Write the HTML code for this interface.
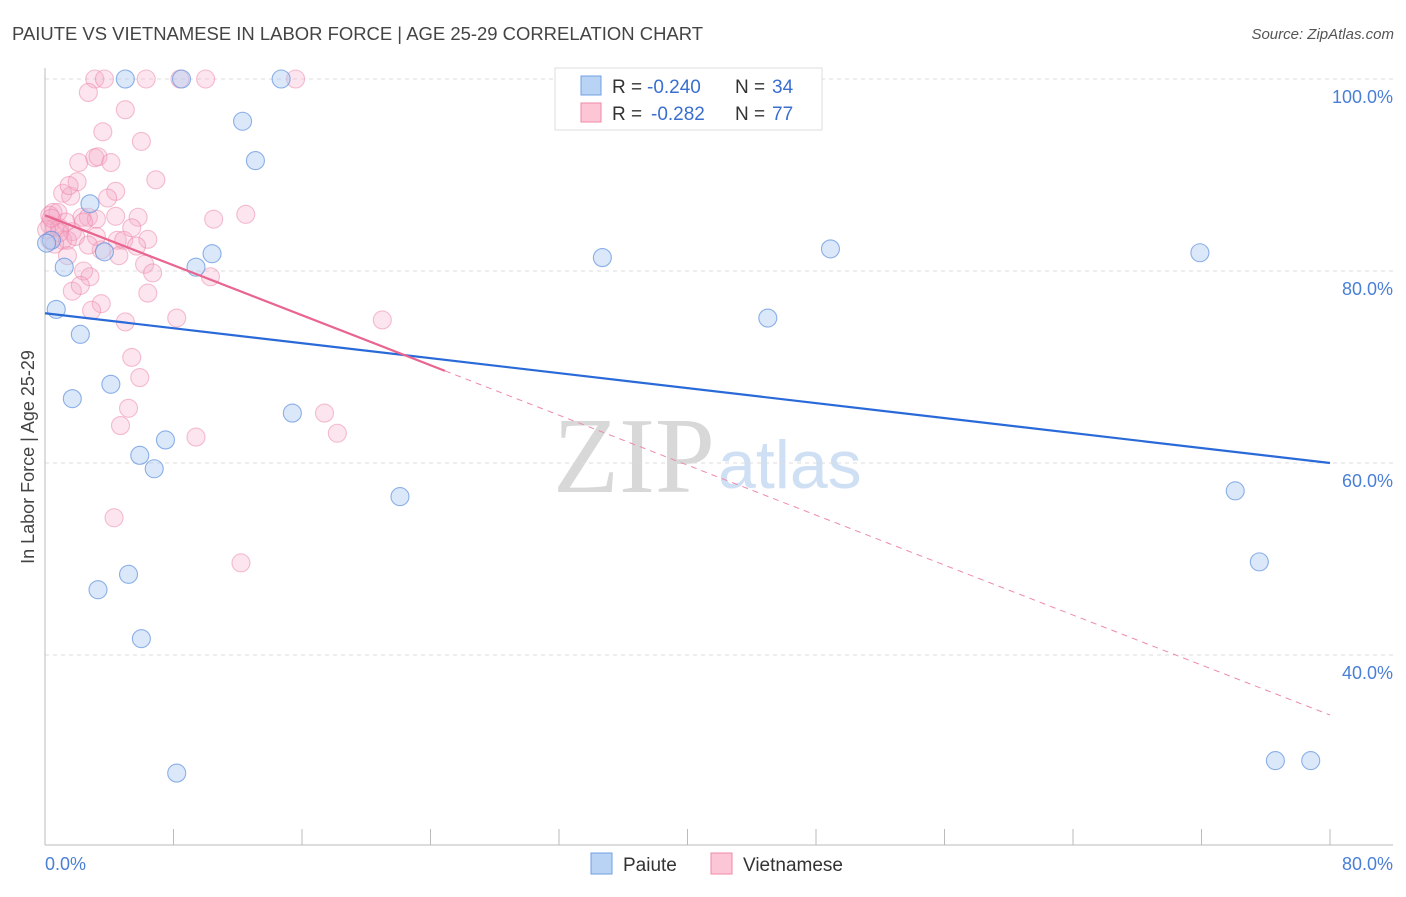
<!DOCTYPE html>
<html><head><meta charset="utf-8"><style>
body{margin:0;background:#fff;font-family:"Liberation Sans",sans-serif}
</style></head><body>
<svg id="chart" width="1406" height="892" xmlns="http://www.w3.org/2000/svg">
<text x="12" y="40" font-size="18" fill="#444" textLength="691" lengthAdjust="spacingAndGlyphs">PAIUTE VS VIETNAMESE IN LABOR FORCE | AGE 25-29 CORRELATION CHART</text>
<text x="1394" y="39" font-size="15" fill="#555" font-style="italic" text-anchor="end">Source: ZipAtlas.com</text>
<text x="553" y="492" font-size="108" fill="#d8d8d8" font-family="Liberation Serif,serif">ZIP</text>
<text x="718" y="488" font-size="68" fill="#cfe0f4">atlas</text>
<g id="grid"></g><g id="axes"></g><g id="pts"></g><g id="lines"></g>
<text transform="translate(34,457) rotate(-90)" font-size="18" fill="#444" text-anchor="middle">In Labor Force | Age 25-29</text>
<text x="45" y="870" font-size="18" fill="#4a7fd6">0.0%</text>
<text x="1393" y="870" font-size="18" fill="#4a7fd6" text-anchor="end">80.0%</text>
<g>
<rect x="555" y="68" width="267" height="62" fill="#fff" stroke="#ddd"/>
<rect x="581" y="76" width="20" height="19" fill="#b9d3f5" stroke="#6f9fe0"/>
<rect x="581" y="103" width="20" height="19" fill="#fcc6d6" stroke="#f08aa8"/>
<text x="612" y="93" font-size="19" fill="#333">R =</text>
<text x="647" y="93" font-size="19" fill="#3a6fd0">-0.240</text>
<text x="735" y="93" font-size="19" fill="#333">N =</text>
<text x="772" y="93" font-size="19" fill="#3a6fd0">34</text>
<text x="612" y="120" font-size="19" fill="#333">R =</text>
<text x="651" y="120" font-size="19" fill="#3a6fd0">-0.282</text>
<text x="735" y="120" font-size="19" fill="#333">N =</text>
<text x="772" y="120" font-size="19" fill="#3a6fd0">77</text>
</g>
<g>
<rect x="591" y="853" width="21" height="21" fill="#b9d3f5" stroke="#6f9fe0"/>
<text x="623" y="871" font-size="19" fill="#333">Paiute</text>
<rect x="711" y="853" width="21" height="21" fill="#fcc6d6" stroke="#f08aa8"/>
<text x="743" y="871" font-size="19" fill="#333">Vietnamese</text>
</g>
</svg>
<script>
const yTicks=[100,80,60,40];
const yTickLabels=["100.0%","80.0%","60.0%","40.0%"];
const xTicks=[0,8,16,24,32,40,48,56,64,72,80];
const pinkX=[3.1,3.7,6.3,8.4,10.0,15.6,2.7,5.0,3.6,6.0,2.1,3.1,3.3,4.1,6.9,1.1,1.6,2.0,1.5,4.4,3.9,10.5,12.5,0.5,0.8,2.3,2.7,3.2,4.4,5.8,0.3,0.6,0.9,1.3,1.7,1.1,1.4,1.9,0.3,0.6,3.2,4.5,4.9,6.4,5.7,3.5,4.6,6.2,1.4,2.4,2.8,6.7,10.3,1.7,2.2,6.4,3.5,2.9,5.0,8.2,21.0,5.4,5.9,5.2,4.7,17.4,18.2,9.4,4.3,12.2,0.3,0.9,2.7,5.4,2.4,0.1,0.4];
const pinkY=[100,100,100,100,100,100,98.6,96.8,94.5,93.5,91.3,91.8,91.9,91.3,89.5,88.1,87.8,89.3,88.9,88.3,87.6,85.4,85.9,86.1,86.1,85.6,85.6,85.4,85.7,85.6,84.8,84.5,84.5,85.1,84.1,83.2,83.2,83.6,83.2,82.8,83.6,83.2,83.2,83.3,82.6,82.2,81.6,80.7,81.6,80.0,79.4,79.8,79.4,77.9,78.5,77.7,76.6,75.9,74.7,75.1,74.9,71.0,68.9,65.7,63.9,65.2,63.1,62.7,54.3,49.6,85.8,84.0,82.7,84.5,85.1,84.3,85.5];
const blueX=[5.0,8.5,14.7,46.0,12.3,13.1,2.8,10.4,3.7,9.4,1.2,34.7,48.9,71.9,0.7,2.2,45.0,4.1,1.7,15.4,7.5,5.9,6.8,22.1,74.1,75.6,5.2,3.3,6.0,8.2,76.6,78.8,0.4,0.1];
const blueY=[100,100,100,100,95.6,91.5,87.0,81.8,82.0,80.4,80.4,81.4,82.3,81.9,76.0,73.4,75.1,68.2,66.7,65.2,62.4,60.8,59.4,56.5,57.1,49.7,48.4,46.8,41.7,27.7,29.0,29.0,83.2,82.9];
const blueTrend=[75.6,60.0];
const pinkTrend=[85.8,33.75];
const pinkSolidEnd=24.9;
const NS="http://www.w3.org/2000/svg";
const X=v=>45+v*(1285/80);
const Y=v=>79+(100-v)*9.6;
function mk(tag,attrs,parent){const e=document.createElementNS(NS,tag);for(const k in attrs)e.setAttribute(k,attrs[k]);document.getElementById(parent).appendChild(e);return e;}
yTicks.forEach((t,i)=>{
 let g=mk('line',{x1:45,x2:1393,y1:Y(t),y2:Y(t),stroke:'#ddd','stroke-dasharray':'4,4'},'grid');
 
 
 let tx=mk('text',{x:1393,y:Y(t)+24,'font-size':18,fill:'#4a7fd6','text-anchor':'end'},'grid');
 tx.textContent=yTickLabels[i];
 
 
});
let a1=mk('line',{x1:45,x2:45,y1:68,y2:845,stroke:'#bbb'},'axes');


let a2=mk('line',{x1:45,x2:1393,y1:845,y2:845,stroke:'#bbb'},'axes');


xTicks.forEach(t=>{
 let l=mk('line',{x1:X(t),x2:X(t),y1:829,y2:845,stroke:'#bbb'},'axes');
 
 
});
pinkX.forEach((v,i)=>{
 let c=mk('circle',{cx:X(v),cy:Y(pinkY[i]),r:9,fill:'rgba(246,170,198,0.3)',stroke:'rgba(236,130,165,0.5)','stroke-width':1.1},'pts');
 
 
});
blueX.forEach((v,i)=>{
 let c=mk('circle',{cx:X(v),cy:Y(blueY[i]),r:9,fill:'rgba(175,205,242,0.45)',stroke:'rgba(95,145,222,0.7)','stroke-width':1.1},'pts');
 
 
});
let bl=mk('line',{x1:X(0),y1:Y(blueTrend[0]),x2:X(80),y2:Y(blueTrend[1]),stroke:'#2a6ad8','stroke-width':2.2},'lines');


const pAt=x=>pinkTrend[0]+(pinkTrend[1]-pinkTrend[0])*x/80;
let pl=mk('line',{x1:X(0),y1:Y(pinkTrend[0]),x2:X(pinkSolidEnd),y2:Y(pAt(pinkSolidEnd)),stroke:'#e9658f','stroke-width':2.2},'lines');


let pd=mk('line',{x1:X(pinkSolidEnd),y1:Y(pAt(pinkSolidEnd)),x2:X(80),y2:Y(pinkTrend[1]),stroke:'#ee8aa8','stroke-width':1,'stroke-dasharray':'6,5'},'lines');


</script>
</body></html>
